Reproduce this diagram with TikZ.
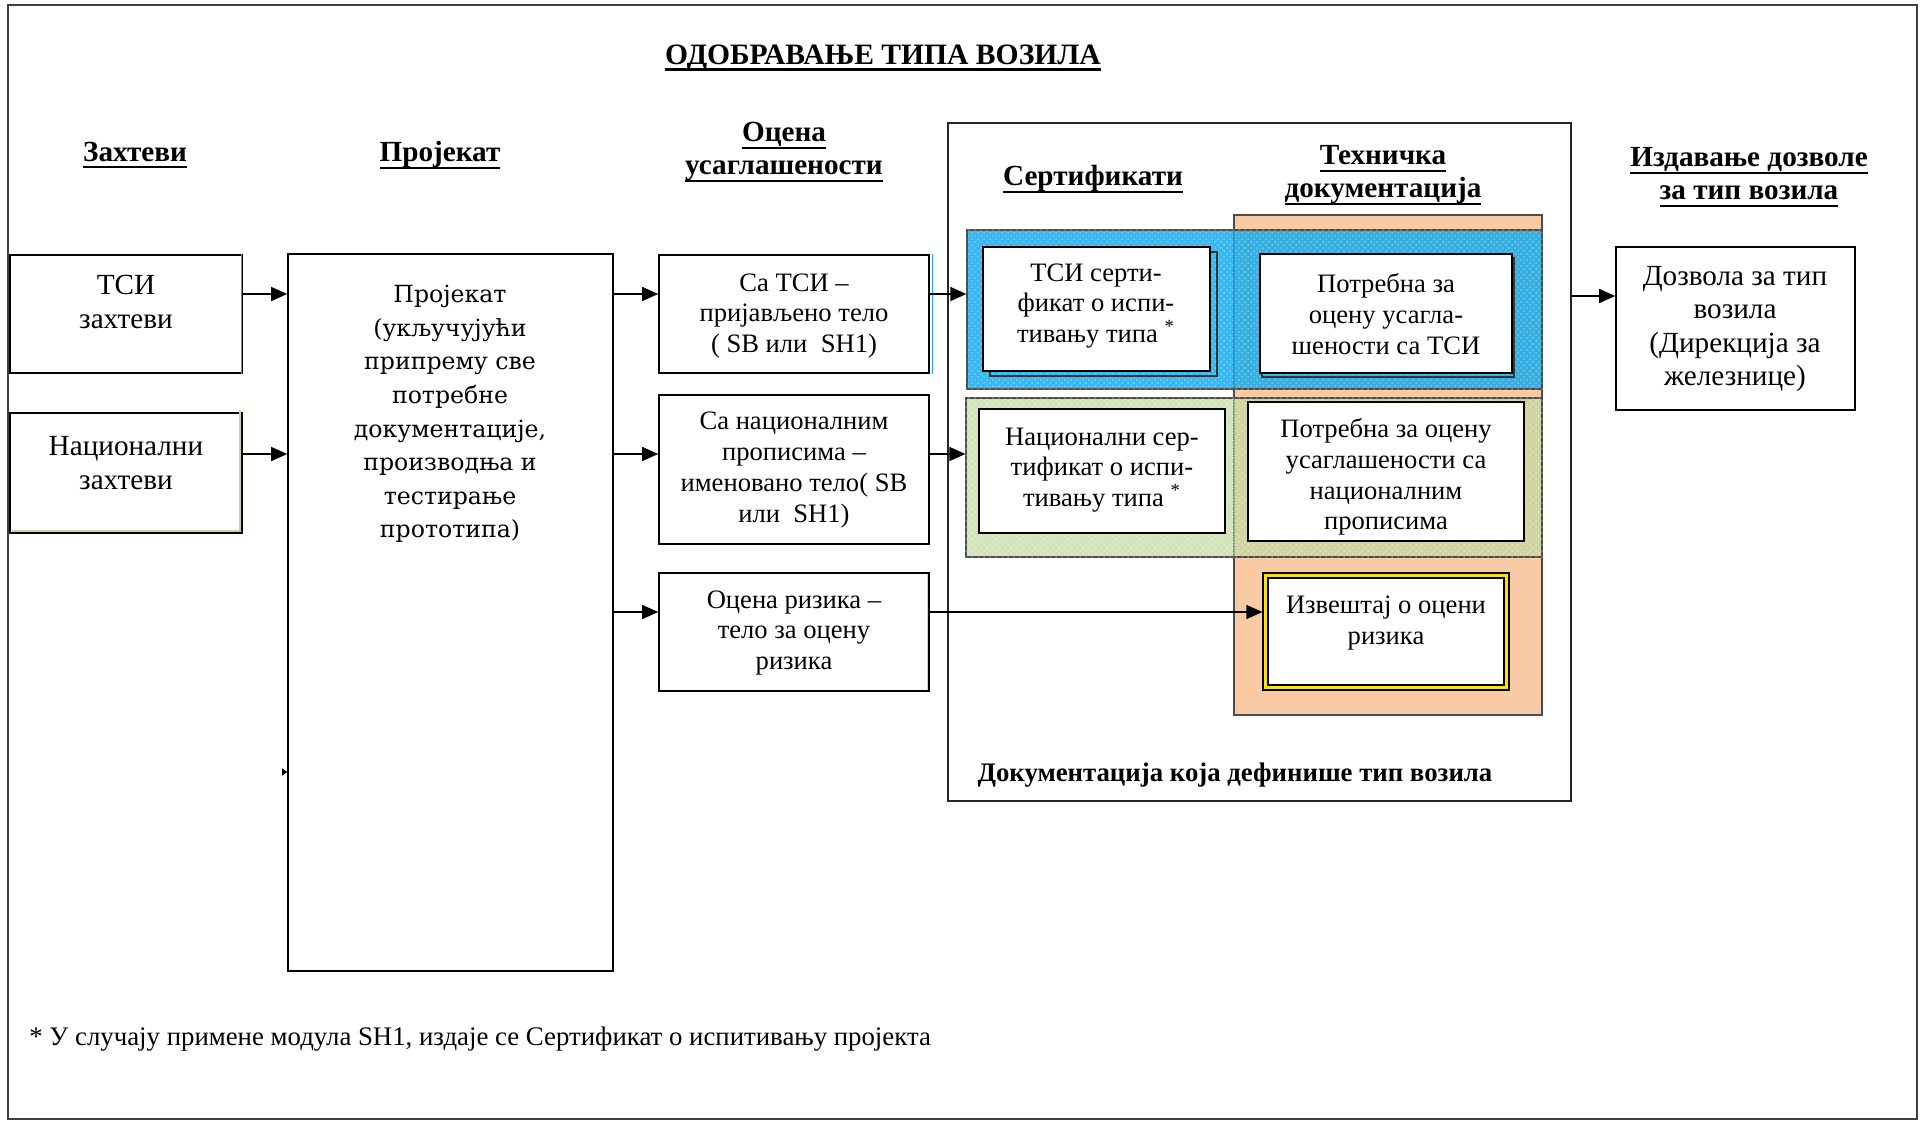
\documentclass[tikz,border=0pt]{standalone}
\usepackage{fontspec}
\setmainfont{Liberation Serif}
\newfontfamily\dvs{DejaVu Serif}
\newcommand{\hul}[2][1pt]{\leavevmode\setbox0\hbox{#2}\rlap{\rule[-3.6pt]{\wd0}{#1}}\box0}
\usetikzlibrary{arrows.meta,patterns,fit}
\definecolor{cblue}{RGB}{22,172,236}
\definecolor{corange}{RGB}{248,203,165}
\definecolor{cgreen}{RGB}{192,216,160}
\definecolor{cyel}{RGB}{250,225,20}
\begin{document}
\begin{tikzpicture}[x=0.5pt,y=-0.5pt,
  box/.style={draw=black,line width=0.8pt,fill=white,inner sep=0pt},
  region/.style={draw=black!70,line width=0.6pt,inner sep=0pt},
  txt/.style={align=center,inner sep=0pt,font=\fontsize{13.3}{15.4}\selectfont},
  bigtxt/.style={align=center,inner sep=0pt,font=\fontsize{14.6}{17}\selectfont},
  hdr/.style={align=center,inner sep=0pt,font=\bfseries\fontsize{14.6}{16.5}\selectfont},
  arr/.style={line width=0.7pt,-{Triangle[length=8pt,width=7pt]}},
  shadowline/.style={draw=black!80,line width=0.6pt}]
\useasboundingbox (0,0) rectangle (1924,1121);
% outer frame
\draw[line width=0.8pt,black!75] (8,5) rectangle (1917,1119);
% title
\node[inner sep=0pt,font=\bfseries\fontsize{14.8}{17}\selectfont] (ttl) at (883,58)
  {\hul[1.8pt]{ОДОБРАВАЊЕ ТИПА ВОЗИЛА}};
% headers
\node[hdr] (h1) at (135,155) {\hul{Захтеви}};
\node[hdr] (h2) at (440,155) {\hul{Пројекат}};
\node[hdr] (h3) at (784,152) {\hul{Оцена}\\\hul{усаглашености}};
\node[hdr] (h4) at (1093,179) {\hul{Сертификати}};
\node[hdr] (h5) at (1383,175) {\hul{Техничка}\\\hul{документација}};
\node[hdr] (h6) at (1749,177) {\hul{Издавање дозволе}\\\hul{за тип возила}};

% container
\node[draw=black!85,line width=0.6pt,inner sep=0pt,fit={(948,123)(1571,801)}] (cont) {};
\node[inner sep=0pt,font=\bfseries\fontsize{13.4}{15}\selectfont] (contl) at (1235,775)
  {Документација која дефинише тип возила};

% coloured regions
\node[region,fill=corange,fit={(1234,215)(1542,715)}] (orR) {};
\node[region,fill=cblue,fill opacity=0.85,fit={(967,230)(1542,389)}] (blueR) {};
\fill[pattern=crosshatch dots,pattern color=white,opacity=0.3] (blueR.north west) rectangle (blueR.south east);
\node[region,fill=cgreen,fill opacity=0.7,fit={(966,398)(1542,557)}] (greenR) {};
\fill[pattern=crosshatch dots,pattern color=white,opacity=0.3] (greenR.north west) rectangle (greenR.south east);
\draw[black!60,line width=0.4pt,densely dotted] (orR.west |- blueR.north) -- (orR.west |- greenR.south);

% left column
\node[box,fit={(10,255)(242,373)}] (tsiz) {};
\draw[cblue,line width=0.7pt] ([xshift=-0.6pt]tsiz.north east) -- ([xshift=-0.6pt]tsiz.south east);
\node[bigtxt] (tsizt) at (126,302) {ТСИ\\захтеви};
\node[box,fit={(10,413)(242,533)}] (natz) {};
\draw[cgreen,line width=1pt] ([xshift=-1.3pt,yshift=1.3pt]natz.north east) -- ([xshift=-1.3pt,yshift=1.3pt]natz.south east) -- ([xshift=1.3pt,yshift=1.3pt]natz.south west);
\node[bigtxt] (natzt) at (126,463) {Национални\\захтеви};

% project
\node[box,fit={(288,254)(613,971)}] (proj) {};
\node[align=center,inner sep=0pt,font=\dvs\fontsize{11.8}{16.8}\selectfont] (projt) at (450,414)
  {Пројекат\\(укључујући\\припрему све\\потребне\\документације,\\производња и\\тестирање\\прототипа)};

% conformity column
\node[box,fit={(659,255)(929,373)}] (satsi) {};
\draw[cblue,line width=0.7pt] ([xshift=1.2pt]satsi.north east) -- ([xshift=1.2pt]satsi.south east);
\node[txt] (satsit) at (794,316) {Са ТСИ –\\пријављено тело\\( SB или \ SH1)};
\node[box,fit={(659,395)(929,544)}] (sanac) {};
\node[txt] (sanact) at (794,470) {Са националним\\прописима –\\именовано тело( SB\\или \ SH1)};
\node[box,fit={(659,573)(929,691)}] (ocriz) {};
\draw[cyel,line width=0.7pt] ([xshift=-1.3pt,yshift=-1pt]ocriz.north east) -- ([xshift=-1.3pt,yshift=1pt]ocriz.south east);
\node[txt] (ocrizt) at (794,633) {Оцена ризика –\\тело за оцену\\ризика};

% certificates
\node[shadowline,inner sep=0pt,fit={(990,252)(1217,376)}] (tsics) {};
\node[box,fit={(983,247)(1210,371)}] (tsic) {};
\node[txt] (tsict) at (1096,306) {ТСИ серти-\\фикат о испи-\\тивању типа \textsuperscript{*}};
\node[box,fit={(979,409)(1225,533)}] (natc) {};
\node[txt] (natct) at (1102,470) {Национални сер-\\тификат о испи-\\тивању типа \textsuperscript{*}};

% technical documentation
\node[shadowline,inner sep=0pt,fit={(1262,258)(1514,377)}] (potrtsis) {};
\node[box,fit={(1260,254)(1512,373)}] (potrtsi) {};
\node[txt] (potrtsit) at (1386,314) {Потребна за\\оцену усагла-\\шености са ТСИ};
\node[box,fit={(1248,402)(1524,541)}] (potrnac) {};
\node[txt] (potrnact) at (1386,477) {Потребна за оцену\\усаглашености са\\националним\\прописима};
\node[draw=black,line width=0.6pt,fill=cyel,inner sep=0pt,fit={(1263,573)(1509,690)}] (izv) {};
\node[box,fit={(1268,578)(1504,685)}] (izvin) {};
\node[txt] (izvt) at (1386,623) {Извештај о оцени\\ризика};

% permit
\node[box,fit={(1616,247)(1855,410)}] (dozv) {};
\node[bigtxt,font=\fontsize{14.6}{16.7}\selectfont] (dozvt) at (1735,329) {Дозвола за тип\\возила\\(Дирекција за\\железнице)};

% footnote
\node[anchor=west,inner sep=0pt,font=\fontsize{13.4}{15}\selectfont] (fn) at (29,1039)
  {* У случају примене модула SH1, издаје се Сертификат о испитивању пројекта};

% arrow levels
\coordinate (r1) at (0,294);
\coordinate (r2) at (0,454);
\coordinate (r3) at (0,612);
\coordinate (r4) at (0,296);
\coordinate (tk) at (282,772);

\draw[arr] (tsiz.east |- r1) -- (proj.west |- r1);
\draw[arr] (natz.east |- r2) -- (proj.west |- r2);
\draw[arr] (proj.east |- r1) -- (satsi.west |- r1);
\draw[arr] (proj.east |- r2) -- (sanac.west |- r2);
\draw[arr] (proj.east |- r3) -- (ocriz.west |- r3);
\draw[arr] (satsi.east |- r1) -- (blueR.west |- r1);
\draw[arr] (sanac.east |- r2) -- (greenR.west |- r2);
\draw[arr] (ocriz.east |- r3) -- (izv.west |- r3);
\draw[arr] (cont.east |- r4) -- (dozv.west |- r4);
\draw[line width=0.5pt,-{Triangle[length=2.5pt,width=3.5pt]}] (tk) -- (proj.west |- tk);
\end{tikzpicture}
\end{document}
